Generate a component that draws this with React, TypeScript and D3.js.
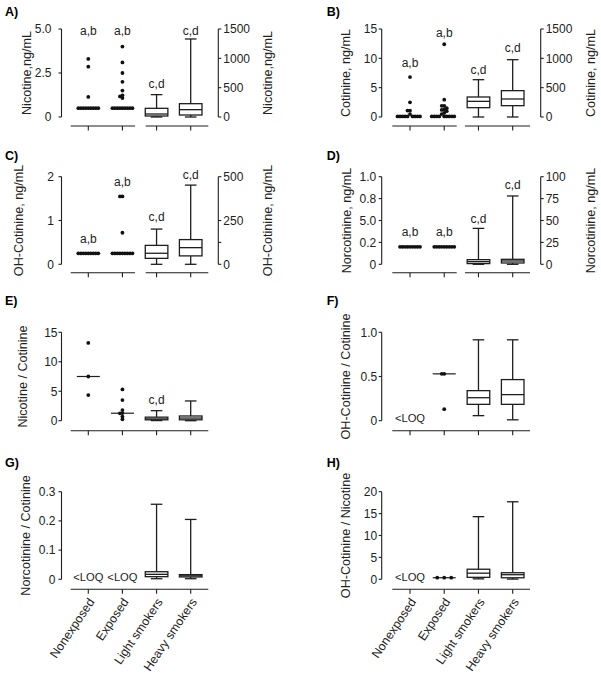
import React from "react";
import * as d3 from "d3";

// ---------------- DATA ----------------
const categories = ["Nonexposed", "Exposed", "Light smokers", "Heavy smokers"];

// A) Nicotine (left ng/mL for dots, right ng/mL for boxes)
const nicotineNonexposed = [3.3, 2.86, 1.14, 0.5, 0.5, 0.5, 0.5, 0.5, 0.5, 0.5, 0.5, 0.5];
const nicotineExposed = [4.0, 3.1, 2.5, 2.0, 1.5, 1.23, 1.17, 1.08, 0.5, 0.5, 0.5, 0.5, 0.5, 0.5, 0.5, 0.5, 0.5];
// box stats: [min, q1, median, q3, max]
const nicotineLight = [0, 17, 51, 148, 381];
const nicotineHeavy = [0, 34, 125, 227, 1330];

// B) Cotinine
const cotinineNonexposed = [6.8, 2.5, 1.1, 1.1, 0.5, 0.1, 0.1, 0.1, 0.1, 0.1, 0.1, 0.1, 0.1, 0.1];
const cotinineExposed = [12.4, 2.95, 1.9, 1.9, 1.5, 1.3, 1.2, 1.0, 0.7, 0.5, 0.1, 0.1, 0.1, 0.1, 0.1, 0.1, 0.1, 0.1, 0.1];
const cotinineLight = [0, 159, 267, 341, 636];
const cotinineHeavy = [0, 193, 307, 449, 977];

// C) OH-Cotinine
const ohcotNonexposed = [0.25, 0.25, 0.25, 0.25, 0.25, 0.25, 0.25, 0.25, 0.25];
const ohcotExposed = [1.55, 1.55, 0.72, 0.25, 0.25, 0.25, 0.25, 0.25, 0.25, 0.25, 0.25, 0.25];
const ohcotLight = [0, 34, 63, 108, 201];
const ohcotHeavy = [0, 48, 95, 141, 452];

// D) Norcotinine
const norcotNonexposed = [0.2, 0.2, 0.2, 0.2, 0.2, 0.2, 0.2, 0.2, 0.2];
const norcotExposed = [0.2, 0.2, 0.2, 0.2, 0.2, 0.2, 0.2, 0.2, 0.2];
const norcotLight = [0, 0.8, 3, 5.3, 41];
const norcotHeavy = [0, 1.5, 3.8, 5.7, 78];

// E) Nicotine / Cotinine
const nicCotNonexposed = [13.2, 7.5, 4.35];
const nicCotExposed = [5.3, 3.5, 1.8, 1.3, 1.25, 0.7, 0.25];
const nicCotMedians = [7.5, 1.27];
const nicCotLight = [0.02, 0.15, 0.3, 0.6, 1.7];
const nicCotHeavy = [0, 0.15, 0.45, 0.8, 3.35];

// F) OH-Cotinine / Cotinine
const ohcotCotExposed = [0.53, 0.53, 0.13];
const ohcotCotMedian = 0.53;
const ohcotCotLight = [0.057, 0.185, 0.26, 0.34, 0.915];
const ohcotCotHeavy = [0.01, 0.185, 0.295, 0.465, 0.915];

// G) Norcotinine / Cotinine
const norCotLight = [0.002, 0.009, 0.017, 0.026, 0.257];
const norCotHeavy = [0.002, 0.008, 0.012, 0.016, 0.205];

// H) OH-Cotinine / Nicotine
const ohcotNicExposed = [0.36, 0.36, 0.36];
const ohcotNicMedian = 0.36;
const ohcotNicLight = [0.1, 0.45, 1.4, 2.3, 14.3];
const ohcotNicHeavy = [0.05, 0.35, 1.05, 1.5, 17.7];

// ---------------- LAYOUT ----------------
const FONT = "'Liberation Sans', Arial, sans-serif";
const INK = "#1e1e1e";
const TXT = "#222";
const FS_TICK = 12;
const FS_TITLE = 12.6;
const FS_NOTE = 12;
const FS_LOQ = 11.2;
const FS_CAT = 12.3;
const FS_LETTER = 12.5;
const SW = 1.3;

const COLS = [
  { axisX: 61.5, xFirst: 88.3, xLast: 190.7, lineStart: 70.7, gapEnd: 135, gapStart: 145.7, lineEnd: 208.3, axisRX: 218.3, letterX: 5, rightTitleX: 271.7 },
  { axisX: 381.7, xFirst: 410, xLast: 512.7, lineStart: 392.3, gapEnd: 456.7, gapStart: 465, lineEnd: 530, axisRX: 540.7, letterX: 326.7, rightTitleX: 595 },
];
const ROWS = [
  { yTop: 29, y0: 117, axisY: 126, letterY: 16 },
  { yTop: 176.7, y0: 264.3, axisY: 272.8, letterY: 160 },
  { yTop: 332.3, y0: 420.7, axisY: 430.7, letterY: 305 },
  { yTop: 491.7, y0: 579.3, axisY: 589.3, letterY: 466.7 },
];

type Note = { cat: number; text: string; v: number; axis: "left" | "right" };
type Spec = {
  letter: string; col: number; row: number; title: string; titleX: number; rightTitle?: string;
  leftDomain: number[]; leftTicks: number[]; leftLabels: string[];
  rightDomain?: number[]; rightTicks?: number[]; rightLabels?: string[]; rightMinor?: number[];
  tickPad: number; broken: boolean; catLabels?: boolean; dotStep?: number;
  dots: { cat: number; values: number[] }[];
  medians?: { cat: number; v: number }[];
  boxes: { cat: number; stats: number[]; axis: "left" | "right" }[];
  notes: Note[]; loq?: number[];
};

// titleX = x of the rotated title's baseline
const panels: Spec[] = [
  {
    letter: "A)", col: 0, row: 0, title: "Nicotine,ng/mL", titleX: 30.7, rightTitle: "Nicotine,ng/mL",
    leftDomain: [0, 5], leftTicks: [0, 2.5, 5], leftLabels: ["0", "2.5", "5.0"],
    rightDomain: [0, 1500], rightTicks: [0, 500, 1000, 1500], rightLabels: ["0", "500", "1000", "1500"],
    tickPad: 10, broken: true,
    dots: [{ cat: 0, values: nicotineNonexposed }, { cat: 1, values: nicotineExposed }],
    boxes: [{ cat: 2, stats: nicotineLight, axis: "right" }, { cat: 3, stats: nicotineHeavy, axis: "right" }],
    notes: [
      { cat: 0, text: "a,b", v: 4.66, axis: "left" }, { cat: 1, text: "a,b", v: 4.66, axis: "left" },
      { cat: 2, text: "c,d", v: 494, axis: "right" }, { cat: 3, text: "c,d", v: 1398, axis: "right" },
    ],
  },
  {
    letter: "B)", col: 1, row: 0, title: "Cotinine, ng/mL", titleX: 350, rightTitle: "Cotinine, ng/mL",
    leftDomain: [0, 15], leftTicks: [0, 5, 10, 15], leftLabels: ["0", "5", "10", "15"],
    rightDomain: [0, 1500], rightTicks: [0, 500, 1000, 1500], rightLabels: ["0", "500", "1000", "1500"],
    tickPad: 4.5, broken: true,
    dots: [{ cat: 0, values: cotinineNonexposed }, { cat: 1, values: cotinineExposed }],
    boxes: [{ cat: 2, stats: cotinineLight, axis: "right" }, { cat: 3, stats: cotinineHeavy, axis: "right" }],
    notes: [
      { cat: 0, text: "a,b", v: 8.47, axis: "left" }, { cat: 1, text: "a,b", v: 13.6, axis: "left" },
      { cat: 2, text: "c,d", v: 733, axis: "right" }, { cat: 3, text: "c,d", v: 1103, axis: "right" },
    ],
  },
  {
    letter: "C)", col: 0, row: 1, title: "OH-Cotinine, ng/mL", titleX: 22.7, rightTitle: "OH-Cotinine, ng/mL",
    leftDomain: [0, 2], leftTicks: [0, 1, 2], leftLabels: ["0", "1", "2"],
    rightDomain: [0, 500], rightTicks: [0, 250, 500], rightLabels: ["0", "250", "500"], rightMinor: [125],
    tickPad: 7.5, broken: true,
    dots: [{ cat: 0, values: ohcotNonexposed }, { cat: 1, values: ohcotExposed }],
    boxes: [{ cat: 2, stats: ohcotLight, axis: "right" }, { cat: 3, stats: ohcotHeavy, axis: "right" }],
    notes: [
      { cat: 0, text: "a,b", v: 0.48, axis: "left" }, { cat: 1, text: "a,b", v: 1.79, axis: "left" },
      { cat: 2, text: "c,d", v: 247, axis: "right" }, { cat: 3, text: "c,d", v: 487, axis: "right" },
    ],
  },
  {
    letter: "D)", col: 1, row: 1, title: "Norcotinine, ng/mL", titleX: 350.5, rightTitle: "Norcotinine, ng/mL",
    leftDomain: [0, 1], leftTicks: [0, 0.25, 0.5, 0.75, 1], leftLabels: ["0", "0.2", "5.0", "0.8", "1.0"],
    rightDomain: [0, 100], rightTicks: [0, 25, 50, 75, 100], rightLabels: ["0", "25", "50", "75", "100"],
    tickPad: 5.5, broken: true,
    dots: [{ cat: 0, values: norcotNonexposed }, { cat: 1, values: norcotExposed }],
    boxes: [{ cat: 2, stats: norcotLight, axis: "right" }, { cat: 3, stats: norcotHeavy, axis: "right" }],
    notes: [
      { cat: 0, text: "a,b", v: 0.323, axis: "left" }, { cat: 1, text: "a,b", v: 0.323, axis: "left" },
      { cat: 2, text: "c,d", v: 47.5, axis: "right" }, { cat: 3, text: "c,d", v: 85.6, axis: "right" },
    ],
  },
  {
    letter: "E)", col: 0, row: 2, title: "Nicotine / Cotinine", titleX: 26.7,
    leftDomain: [0, 15], leftTicks: [0, 5, 10, 15], leftLabels: ["0", "5", "10", "15"],
    tickPad: 4, broken: false,
    dots: [{ cat: 0, values: nicCotNonexposed }, { cat: 1, values: nicCotExposed }],
    medians: [{ cat: 0, v: nicCotMedians[0] }, { cat: 1, v: nicCotMedians[1] }],
    boxes: [{ cat: 2, stats: nicCotLight, axis: "left" }, { cat: 3, stats: nicCotHeavy, axis: "left" }],
    notes: [{ cat: 2, text: "c,d", v: 2.83, axis: "left" }],
  },
  {
    letter: "F)", col: 1, row: 2, title: "OH-Cotinine / Cotinine", titleX: 350,
    leftDomain: [0, 1], leftTicks: [0, 0.5, 1], leftLabels: ["0", "0.5", "1.0"],
    tickPad: 4.5, broken: false,
    dots: [{ cat: 1, values: ohcotCotExposed }],
    medians: [{ cat: 1, v: ohcotCotMedian }],
    boxes: [{ cat: 2, stats: ohcotCotLight, axis: "left" }, { cat: 3, stats: ohcotCotHeavy, axis: "left" }],
    notes: [], loq: [0],
  },
  {
    letter: "G)", col: 0, row: 3, title: "Norcotinine / Cotinine", titleX: 30,
    leftDomain: [0, 0.3], leftTicks: [0, 0.1, 0.2, 0.3], leftLabels: ["0", "0.1", "0.2", "0.3"],
    tickPad: 6, broken: false, catLabels: true,
    dots: [],
    boxes: [{ cat: 2, stats: norCotLight, axis: "left" }, { cat: 3, stats: norCotHeavy, axis: "left" }],
    notes: [], loq: [0, 1],
  },
  {
    letter: "H)", col: 1, row: 3, title: "OH-Cotinine / Nicotine", titleX: 350,
    leftDomain: [0, 20], leftTicks: [0, 5, 10, 15, 20], leftLabels: ["0", "5", "10", "15", "20"],
    tickPad: 4.5, broken: false, catLabels: true, dotStep: 7,
    dots: [{ cat: 1, values: ohcotNicExposed }],
    medians: [{ cat: 1, v: ohcotNicMedian }],
    boxes: [{ cat: 2, stats: ohcotNicLight, axis: "left" }, { cat: 3, stats: ohcotNicHeavy, axis: "left" }],
    notes: [], loq: [0],
  },
];

// simple symmetric beeswarm
function swarm(values: number[], y: (v: number) => number, cx: number, s = 2.5, d = 2.4) {
  const sorted = [...values].sort((a, b) => b - a);
  const placed: { x: number; y: number }[] = [];
  const minD = Math.min(d, s - 0.01);
  for (const v of sorted) {
    const py = y(v);
    for (let k = 0; k < 60; k++) {
      const cands = k === 0 ? [0] : [-k * s, k * s];
      let found: number | null = null;
      for (const o of cands) {
        if (placed.every((p) => Math.hypot(p.x - (cx + o), p.y - py) >= minD)) { found = o; break; }
      }
      if (found !== null) { placed.push({ x: cx + found, y: py }); break; }
    }
  }
  return placed;
}

function Panel({ p }: { p: Spec }) {
  const C = COLS[p.col];
  const R = ROWS[p.row];
  const x = d3.scalePoint<string>().domain(categories).range([C.xFirst, C.xLast]);
  const yL = d3.scaleLinear().domain(p.leftDomain).range([R.y0, R.yTop]);
  const yR = p.rightDomain ? d3.scaleLinear().domain(p.rightDomain).range([R.y0, R.yTop]) : null;
  const yOf = (axis: "left" | "right") => (axis === "right" && yR ? yR : yL);
  const midY = (R.y0 + R.yTop) / 2;
  const boxHW = 11.3;
  const capHW = 5.8;
  const els: React.ReactNode[] = [];

  els.push(<text key="letter" x={C.letterX} y={R.letterY} fontSize={FS_LETTER} fontWeight="bold" fill="#000">{p.letter}</text>);

  // left axis
  els.push(<line key="yl" x1={C.axisX} x2={C.axisX} y1={R.yTop} y2={R.y0} stroke={INK} strokeWidth={1.1} />);
  p.leftTicks.forEach((t, i) => {
    els.push(<line key={"ylt" + i} x1={C.axisX - 3} x2={C.axisX} y1={yL(t)} y2={yL(t)} stroke={INK} strokeWidth={1.1} />);
    els.push(<text key={"yll" + i} x={C.axisX - p.tickPad} y={yL(t)} dy="0.36em" textAnchor="end" fontSize={FS_TICK} fill={TXT}>{p.leftLabels[i]}</text>);
  });
  els.push(<text key="ytitle" transform={`translate(${p.titleX},${midY}) rotate(-90)`} textAnchor="middle" fontSize={FS_TITLE} fill={TXT}>{p.title}</text>);

  // right axis
  if (yR && p.rightTicks) {
    els.push(<line key="yr" x1={C.axisRX} x2={C.axisRX} y1={R.yTop} y2={R.y0} stroke={INK} strokeWidth={1.1} />);
    p.rightTicks.forEach((t, i) => {
      els.push(<line key={"yrt" + i} x1={C.axisRX} x2={C.axisRX + 3} y1={yR(t)} y2={yR(t)} stroke={INK} strokeWidth={1.1} />);
      els.push(<text key={"yrl" + i} x={C.axisRX + 5} y={yR(t)} dy="0.36em" textAnchor="start" fontSize={FS_TICK} fill={TXT}>{p.rightLabels![i]}</text>);
    });
    (p.rightMinor || []).forEach((t, i) => {
      els.push(<line key={"yrm" + i} x1={C.axisRX} x2={C.axisRX + 3} y1={yR(t)} y2={yR(t)} stroke={INK} strokeWidth={1.1} />);
    });
    els.push(<text key="rtitle" transform={`translate(${C.rightTitleX},${midY}) rotate(-90)`} textAnchor="middle" fontSize={FS_TITLE} fill={TXT}>{p.rightTitle}</text>);
  }

  // x axis
  if (p.broken) {
    els.push(<line key="xa1" x1={C.lineStart} x2={C.gapEnd} y1={R.axisY} y2={R.axisY} stroke={INK} strokeWidth={1.1} />);
    els.push(<line key="xa2" x1={C.gapStart} x2={C.lineEnd} y1={R.axisY} y2={R.axisY} stroke={INK} strokeWidth={1.1} />);
  } else {
    els.push(<line key="xa" x1={C.lineStart} x2={C.lineEnd} y1={R.axisY} y2={R.axisY} stroke={INK} strokeWidth={1.1} />);
  }
  categories.forEach((c, i) => {
    const cx = x(c)!;
    els.push(<line key={"xt" + i} x1={cx} x2={cx} y1={R.axisY} y2={R.axisY + 4.5} stroke={INK} strokeWidth={1.1} />);
    if (p.catLabels) {
      els.push(<text key={"xl" + i} transform={`translate(${cx + 3},${R.axisY + 10}) rotate(-56)`} textAnchor="end" dy="0.36em" fontSize={FS_CAT} fill={TXT}>{c}</text>);
    }
  });

  // medians for dot groups
  (p.medians || []).forEach((m, i) => {
    const cx = x(categories[m.cat])!;
    els.push(<line key={"md" + i} x1={cx - 11.5} x2={cx + 11.5} y1={yL(m.v)} y2={yL(m.v)} stroke={INK} strokeWidth={1.2} />);
  });

  // dots
  p.dots.forEach((g, gi) => {
    const cx = x(categories[g.cat])!;
    swarm(g.values, (v) => yL(v), cx, p.dotStep || 2.5).forEach((pt, j) => {
      els.push(<circle key={`d${gi}-${j}`} cx={pt.x} cy={pt.y} r={1.9} fill="#111" />);
    });
  });

  // boxes
  p.boxes.forEach((b, bi) => {
    const y = yOf(b.axis);
    const cx = x(categories[b.cat])!;
    const [mn, q1, md, q3, mx] = b.stats;
    els.push(
      <g key={"b" + bi} stroke={INK} strokeWidth={SW} fill="none">
        <line x1={cx} x2={cx} y1={y(q3)} y2={y(mx)} />
        <line x1={cx} x2={cx} y1={y(q1)} y2={y(mn)} />
        <line x1={cx - capHW} x2={cx + capHW} y1={y(mx)} y2={y(mx)} />
        <line x1={cx - capHW} x2={cx + capHW} y1={y(mn)} y2={y(mn)} />
        <rect x={cx - boxHW} y={y(q3)} width={boxHW * 2} height={Math.max(0.5, y(q1) - y(q3))} fill="#fff" />
        <line x1={cx - boxHW} x2={cx + boxHW} y1={y(md)} y2={y(md)} />
      </g>
    );
  });

  // annotations
  p.notes.forEach((n, i) => {
    const cx = x(categories[n.cat])!;
    els.push(<text key={"n" + i} x={cx} y={yOf(n.axis)(n.v)} textAnchor="middle" fontSize={FS_NOTE} fill={TXT}>{n.text}</text>);
  });

  // <LOQ
  (p.loq || []).forEach((c, i) => {
    const cx = x(categories[c])!;
    els.push(<text key={"loq" + i} x={cx} y={yL(0) + 1.5} textAnchor="middle" fontSize={FS_LOQ} fill={TXT}>{"<LOQ"}</text>);
  });

  return <g>{els}</g>;
}

export default function App() {
  return (
    <svg width={601} height={675} viewBox="0 0 601 675" style={{ position: "absolute", left: 0, top: 0, background: "#fff" }} fontFamily={FONT}>
      <rect width={601} height={675} fill="#fff" />
      {panels.map((p) => (
        <Panel key={p.letter} p={p} />
      ))}
    </svg>
  );
}
